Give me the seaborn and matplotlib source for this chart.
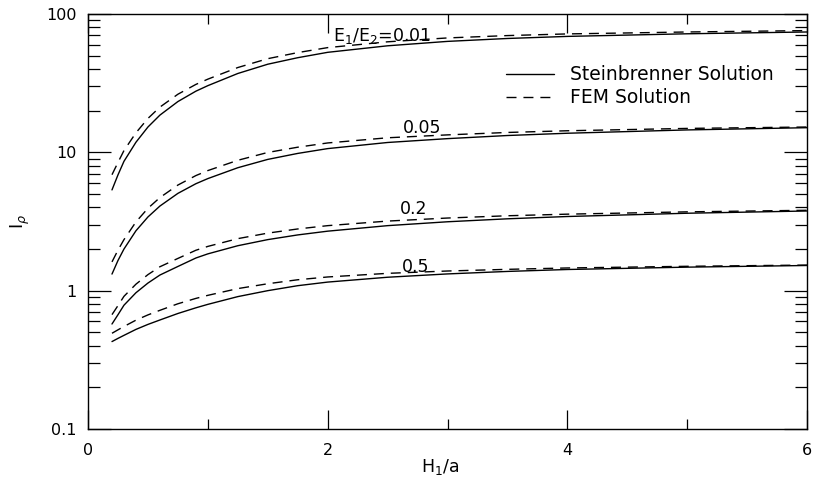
import numpy as np
import pandas as pd
import matplotlib
matplotlib.use("Agg")
import matplotlib.pyplot as plt
import seaborn as sns
from matplotlib.ticker import FixedLocator, FuncFormatter, LogLocator, NullFormatter
from matplotlib.lines import Line2D

# ---- data ----
h_ratio = [0.2, 0.25, 0.3, 0.4, 0.5, 0.6, 0.75, 0.9, 1.0, 1.25, 1.5, 1.75,
           2.0, 2.5, 3.0, 3.5, 4.0, 5.0, 6.0]

stein_001 = [5.35, 6.87, 8.61, 11.83, 15.24, 18.58, 23.28, 27.67, 30.34, 37.15,
             43.35, 48.31, 52.84, 58.9, 63.39, 66.53, 68.87, 71.94, 74.13]
fem_001   = [6.89, 8.45, 10.30, 13.84, 17.58, 21.23, 26.30, 30.97, 33.81, 41.02,
             47.53, 52.60, 57.15, 62.95, 67.14, 69.82, 71.78, 74.13, 75.86]

stein_005 = [1.318, 1.652, 2.0, 2.71, 3.41, 4.09, 5.05, 5.93, 6.46, 7.74,
             8.89, 9.82, 10.64, 11.78, 12.56, 13.23, 13.74, 14.52, 15.07]
fem_005   = [1.614, 1.963, 2.339, 3.14, 3.94, 4.71, 5.80, 6.79, 7.38, 8.76,
             9.98, 10.89, 11.69, 12.74, 13.37, 13.92, 14.32, 14.89, 15.24]

stein_02 = [0.574, 0.670, 0.785, 0.966, 1.135, 1.297, 1.496, 1.722, 1.845, 2.113,
            2.339, 2.529, 2.692, 2.951, 3.148, 3.307, 3.436, 3.628, 3.767]
fem_02   = [0.671, 0.780, 0.910, 1.114, 1.306, 1.489, 1.710, 1.959, 2.089, 2.377,
            2.606, 2.793, 2.951, 3.184, 3.350, 3.479, 3.573, 3.713, 3.811]

stein_05 = [0.4285, 0.4519, 0.4753, 0.5248, 0.5702, 0.6138, 0.6839, 0.7516, 0.7962, 0.9057,
            1.0, 1.0864, 1.1535, 1.2503, 1.3213, 1.3772, 1.4223, 1.4791, 1.5205]
fem_05   = [0.492, 0.521, 0.551, 0.612, 0.668, 0.721, 0.804, 0.879, 0.925, 1.035,
            1.122, 1.199, 1.256, 1.334, 1.387, 1.426, 1.459, 1.500, 1.531]

ratio_labels = ["0.01", "0.05", "0.2", "0.5"]
method_labels = ["Steinbrenner Solution", "FEM Solution"]
x_ticks = [0, 2, 4, 6]
x_minor_ticks = [1, 3, 5]
y_ticks = [0.1, 1, 10, 100]
y_tick_labels = ["0.1", "1", "10", "100"]

series = {
    ("0.01", "Steinbrenner Solution"): stein_001,
    ("0.01", "FEM Solution"): fem_001,
    ("0.05", "Steinbrenner Solution"): stein_005,
    ("0.05", "FEM Solution"): fem_005,
    ("0.2", "Steinbrenner Solution"): stein_02,
    ("0.2", "FEM Solution"): fem_02,
    ("0.5", "Steinbrenner Solution"): stein_05,
    ("0.5", "FEM Solution"): fem_05,
}
rows = []
for (r, m), vals in series.items():
    for x, v in zip(h_ratio, vals):
        rows.append({"H": x, "I": v, "ratio": r, "method": m})
df = pd.DataFrame(rows)

# ---- plot ----
sns.set_theme(style="ticks")
plt.rcParams["font.family"] = ["DejaVu Sans"]
plt.rcParams["mathtext.fontset"] = "dejavusans"
plt.rcParams["text.color"] = "black"
plt.rcParams["axes.labelcolor"] = "black"
plt.rcParams["xtick.color"] = "black"
plt.rcParams["ytick.color"] = "black"

fig = plt.figure(figsize=(8.18, 4.86), dpi=100)
ax = fig.add_axes([0.1076, 0.1173, 0.8790, 0.8539])

DASH = (7.2, 5.0)
sns.lineplot(data=df, x="H", y="I", units="ratio", style="method",
             style_order=method_labels, estimator=None, color="black",
             dashes={"Steinbrenner Solution": "", "FEM Solution": DASH},
             linewidth=1.0, legend=False, ax=ax, sort=False)

ax.set_yscale("log")
ax.set_xlim(0, 6)
ax.set_ylim(0.1, 100)

ax.xaxis.set_major_locator(FixedLocator(x_ticks))
ax.xaxis.set_minor_locator(FixedLocator(x_minor_ticks))
ax.yaxis.set_major_locator(FixedLocator(y_ticks))
ax.yaxis.set_major_formatter(FuncFormatter(
    lambda v, p: y_tick_labels[y_ticks.index(v)] if v in y_ticks else ""))
ax.yaxis.set_minor_locator(LogLocator(base=10, subs=np.arange(2, 10)))
ax.yaxis.set_minor_formatter(NullFormatter())

ax.tick_params(axis="both", which="both", direction="in", top=True, right=True,
               colors="black", labelcolor="black", labelsize=11.5, width=0.9)
ax.tick_params(axis="x", which="major", length=13.5, pad=10)
ax.tick_params(axis="x", which="minor", length=7)
ax.tick_params(axis="y", which="major", length=16.5, pad=8)
ax.tick_params(axis="y", which="minor", length=8.5)
for s in ax.spines.values():
    s.set_linewidth(1.0)
    s.set_color("black")

ax.set_xlabel("H$_{1}$/a", fontsize=12.5, color="black")
ax.xaxis.set_label_coords(0.49, -0.068)
ax.set_ylabel("I$_\\rho$", fontsize=13, color="black")
ax.yaxis.set_label_coords(-0.078, 0.50)

# curve labels
lab_kw = dict(fontsize=12.5, va="baseline", ha="left", color="black")
ax.text(2.045, 63.7, "E$_{1}$/E$_{2}$=0.01", **lab_kw)
ax.text(2.627, 13.7, "0.05", **lab_kw)
ax.text(2.604, 3.57, "0.2", **lab_kw)
ax.text(2.619, 1.37, "0.5", **lab_kw)

handles = [Line2D([], [], color="black", lw=1.0),
           Line2D([], [], color="black", lw=1.0, dashes=DASH)]
leg = ax.legend(handles, method_labels, loc="upper left", bbox_to_anchor=(0.581, 0.876),
                frameon=False, fontsize=13.5, handlelength=2.55, handletextpad=0.85,
                labelspacing=0.2, borderaxespad=0, borderpad=0)
for t in leg.get_texts():
    t.set_color("black")

fig.savefig("out.png", dpi=100)
